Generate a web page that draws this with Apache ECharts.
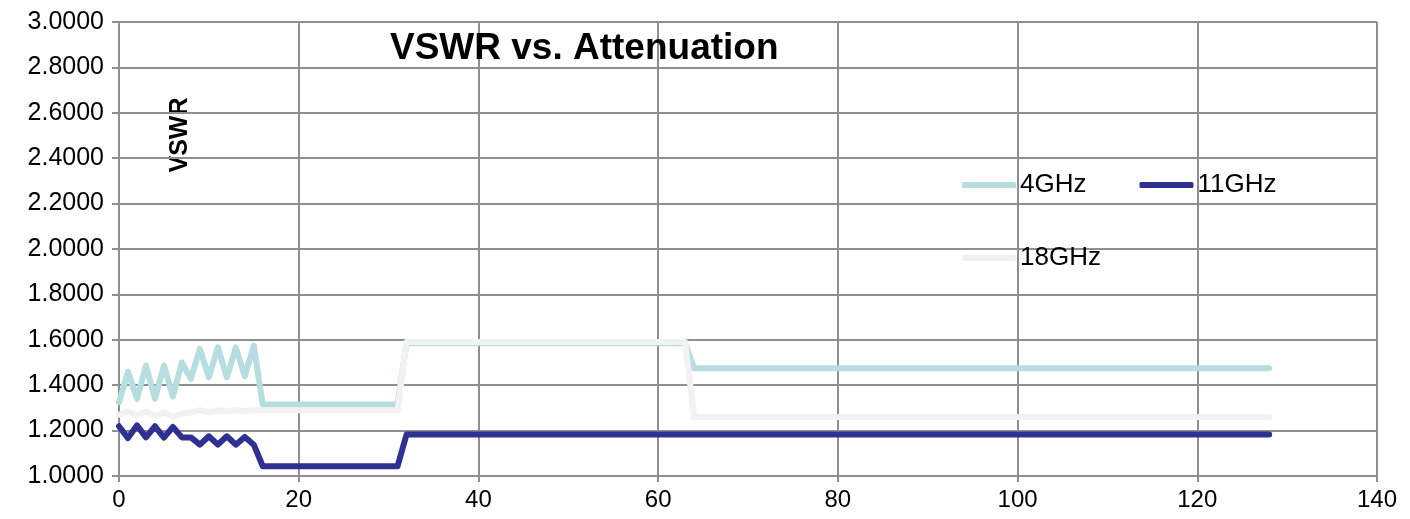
<!DOCTYPE html>
<html>
<head>
<meta charset="utf-8">
<script src="https://cdn.jsdelivr.net/npm/echarts@6/dist/echarts.min.js"></script>
<style>
html,body{margin:0;padding:0;background:#fff;}
#chart{width:1410px;height:519px;}
</style>
</head>
<body>
<div id="chart"></div>
<script>
// Attenuation states (x) at which values were read
const states = [0,1,2,3,4,5,6,7,8,9,10,11,12,13,14,15,16,31,32,63,64,128];
const vswr4GHz  = [1.325,1.459,1.340,1.487,1.340,1.487,1.350,1.500,1.428,1.560,1.435,1.567,1.435,1.567,1.440,1.574,1.315,1.315,1.585,1.585,1.475,1.475];
const vswr11GHz = [1.219,1.167,1.223,1.170,1.219,1.169,1.216,1.170,1.170,1.138,1.175,1.138,1.175,1.138,1.172,1.138,1.043,1.043,1.183,1.183,1.183,1.183];
const vswr18GHz = [1.270,1.285,1.265,1.285,1.265,1.280,1.260,1.275,1.280,1.290,1.280,1.290,1.285,1.290,1.285,1.290,1.290,1.290,1.590,1.590,1.260,1.260];
const seriesNames = ['4GHz','11GHz','18GHz'];
const seriesColors = ['#b6dde0','#2e3192','#f2f2f2'];
const xTicks = {min:0, max:140, interval:20};
const yTicks = {min:1, max:3, interval:0.2};

const values = [vswr4GHz, vswr11GHz, vswr18GHz];
const chart = echarts.init(document.getElementById('chart'));
const font = "'Liberation Sans', Arial, sans-serif";
const gridColor = '#8f8f8f';

chart.setOption({
  animation: false,
  backgroundColor: '#fff',
  title: {
    text: 'VSWR vs. Attenuation',
    left: 385, top: 25,
    textStyle: {fontFamily: font, fontSize: 37, fontWeight: 'bold', color: '#000'}
  },
  legend: [
    {
      data: ['4GHz','11GHz'],
      left: 962, top: 172, padding: 0,
      itemWidth: 54, itemHeight: 6, itemGap: 53,
      icon: 'roundRect',
      textStyle: {fontFamily: font, fontSize: 26, color: '#000', padding: [0,0,0,-1]}
    },
    {
      data: ['18GHz'],
      left: 962, top: 245, padding: 0,
      itemWidth: 54, itemHeight: 6,
      icon: 'roundRect',
      textStyle: {fontFamily: font, fontSize: 26, color: '#000', padding: [0,0,0,-1]}
    }
  ],
  grid: {left: 119, right: 33, top: 22, bottom: 43, containLabel: false},
  xAxis: {
    type: 'value', min: xTicks.min, max: xTicks.max, interval: xTicks.interval,
    axisLine: {show: true, lineStyle: {color: gridColor, width: 2}},
    axisTick: {show: true, length: 6, lineStyle: {color: gridColor, width: 2}},
    splitLine: {show: true, lineStyle: {color: gridColor, width: 2}},
    axisLabel: {fontFamily: font, fontSize: 24, color: '#000', margin: 12}
  },
  yAxis: {
    type: 'value', min: yTicks.min, max: yTicks.max, interval: yTicks.interval,
    axisLine: {show: true, lineStyle: {color: gridColor, width: 2}},
    axisTick: {show: true, length: 7, lineStyle: {color: gridColor, width: 2}},
    splitLine: {show: true, lineStyle: {color: gridColor, width: 2}},
    axisLabel: {fontFamily: font, fontSize: 25, color: '#000', margin: 15,
      formatter: v => v.toFixed(4)}
  },
  graphic: [{
    type: 'text', x: 180, y: 135, rotation: Math.PI / 2,
    style: {text: 'VSWR', fontFamily: font, fontSize: 25, fontWeight: 'bold',
      fill: '#000', textAlign: 'center', textVerticalAlign: 'middle'}
  }],
  series: seriesNames.map((name, i) => ({
    name: name,
    type: 'line',
    data: states.map((x, j) => [x, values[i][j]]),
    showSymbol: false,
    symbol: 'none',
    color: seriesColors[i],
    lineStyle: {width: 6, color: seriesColors[i], cap: 'round', join: 'round'},
    itemStyle: {color: seriesColors[i]},
    z: 2 + i
  }))
});
</script>
</body>
</html>
